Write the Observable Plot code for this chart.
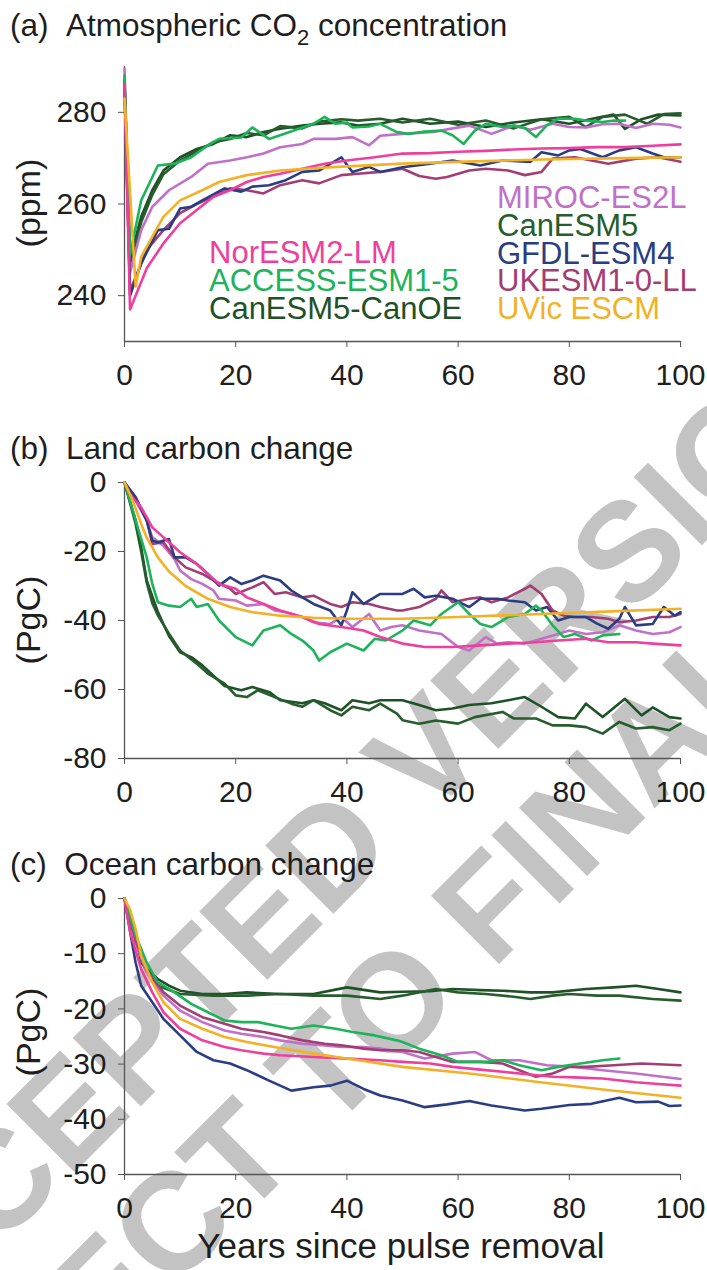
<!DOCTYPE html>
<html><head><meta charset="utf-8">
<script src="https://cdn.jsdelivr.net/npm/d3@7"></script>
<script src="https://cdn.jsdelivr.net/npm/@observablehq/plot@0.6"></script>
<style>
body{margin:0;background:#fff;}
#wrap{position:relative;width:707px;height:1270px;overflow:hidden;background:#fff;}
#wrap svg{position:absolute;left:0;}
</style></head><body><div id="wrap"></div>
<script>
// ---------- categories / styling lists ----------
const models = ["NorESM2-LM","ACCESS-ESM1-5","CanESM5-CanOE","MIROC-ES2L","CanESM5","GFDL-ESM4","UKESM1-0-LL","UVic ESCM"];
const modelColors = ["#ef3f9c","#1db35a","#1f5127","#c071c7","#275c2d","#2a3d82","#a23e73","#f2b126"];
const drawOrder = ["CanESM5-CanOE","CanESM5","MIROC-ES2L","UKESM1-0-LL","GFDL-ESM4","ACCESS-ESM1-5","NorESM2-LM","UVic ESCM"];
const xTicks = [0,20,40,60,80,100];
const co2Ticks = [240,260,280];
const landTicks = [0,-20,-40,-60,-80];
const oceanTicks = [0,-10,-20,-30,-40,-50];
const watermarkLines = ["ACCEPTED VERSION","SUBJECT TO FINAL EDITS"];

// ---------- (a) atmospheric CO2, ppm  [year, value] ----------
const co2_NorESM = [[0,286],[1,237],[2,240],[4,246],[7,251.4],[10,255.8],[13,258.7],[16,261.6],[19,263],[22,264.8],[25,265.9],[28,266.6],[32,267.7],[36,268.8],[40,269.5],[45,270.2],[50,271],[55,271.1],[60,271.4],[65,271.6],[70,271.9],[75,272.1],[80,272.2],[85,272.4],[90,272.4],[95,272.7],[100,273]];
const co2_ACCESS = [[0,288],[1,249],[3,260.8],[6,268.4],[9,268.8],[12,270.2],[15,272.8],[17,274.2],[21,274.5],[23,276.7],[26,274.2],[28,275],[32,276.7],[34,277.5],[36,279],[38,277.5],[40,277.8],[41,276.7],[44,276.9],[46,277.5],[49,275.7],[51,275.3],[54,275.8],[57,276],[59,275],[61,273.1],[63,276],[65,277.5],[68,276.8],[70,277.1],[72,276.6],[74,274.6],[76,277.2],[78,278.6],[81,278.6],[83,278.2],[86,277.9],[88,278.2],[90,278.2]];
const co2_CanOE = [[0,287],[1,248],[3,257.2],[5,263],[7,267.3],[10,270.2],[13,272],[16,273.1],[19,275],[22,274.6],[25,275.7],[28,276.4],[32,277.1],[35,277.5],[39,277.8],[42,277.1],[46,277.5],[50,278.6],[55,277.5],[60,278],[65,276.8],[70,277.8],[75,278.5],[80,277.5],[85,278.8],[88,279.5],[90,276.4],[93,278.5],[96,279.5],[100,279.3]];
const co2_MIROC = [[0,289.5],[1,245],[3,254.3],[5,259.4],[8,263],[12,265.9],[15,268.8],[19,269.5],[22,270.2],[25,271],[28,272.4],[32,273.1],[34,274.2],[38,274.2],[41,274.6],[44,272.8],[46,274.9],[50,275.3],[53,275.5],[56,275.8],[59,276.5],[62,277.1],[66,275.3],[70,277.1],[73,276.2],[77,277.5],[80,276.8],[83,276.7],[86,277.4],[89,277.5],[92,276.6],[95,277.5],[98,277.3],[100,276.7]];
const co2_CanESM5 = [[0,287],[1,247],[3,256],[5,262],[7,266.5],[10,269.5],[13,271.5],[16,273.5],[19,274.2],[22,275.5],[25,275],[28,277],[32,276.5],[35,278],[39,278.5],[42,278.2],[46,278.6],[50,277.8],[55,278.6],[60,277.3],[65,278.2],[70,276.5],[75,278.5],[80,279],[83,276.8],[86,279],[90,279.5],[94,277.5],[97,279.6],[100,279.8]];
const co2_GFDL = [[0,286],[1,240],[3,247],[6,254.3],[8,254.6],[10,259],[12,259.4],[14,260.8],[18,263.4],[21,262.7],[23,263.8],[26,264.1],[29,265.2],[32,267],[35,267.3],[39,270.2],[41,267],[44,268.1],[46,267],[50,268],[55,268.8],[59,269.5],[64,268.4],[68,269.5],[73,269.2],[75,271.3],[78,270.6],[80,271.7],[82,272],[86,270.2],[89,271.7],[92,272.4],[95,271],[97,270.2],[100,270.2]];
const co2_UKESM = [[0,286],[1,241],[4,250],[7,254.3],[10,258],[13,260],[16,261.6],[19,263.4],[22,263],[25,262.3],[28,264.1],[32,265.2],[35,264.5],[39,266.3],[42,266.6],[46,267],[50,267.7],[53,266.1],[56,265.5],[58,265.9],[62,267.3],[65,267.7],[69,267.3],[72,266.3],[75,267],[77,269.9],[81,270.2],[84,269.5],[87,268.8],[92,269.9],[96,270.2],[100,269.2]];
const co2_UVic = [[0,283],[2,242],[3,248.5],[5,252.9],[7,257.2],[10,260.8],[14,263],[17,264.8],[22,266.3],[28,267.3],[34,267.8],[40,268.2],[50,268.8],[60,269.2],[75,269.7],[90,270],[100,270.2]];

// ---------- (b) land carbon change, PgC ----------
const land_NorESM = [[0,0],[1,-3.4],[3,-7.2],[5,-13],[8,-17.3],[10,-20.2],[13,-23.6],[15,-26.5],[17,-29.4],[20,-30.8],[22,-33.3],[25,-35.2],[28,-37.1],[32,-39],[35,-41],[39,-41.9],[43,-42.9],[46,-44.8],[50,-46.7],[54,-47.7],[59,-47.7],[64,-47.2],[69,-46.7],[74,-46.3],[78,-45.8],[83,-45.3],[87,-46.3],[92,-46.3],[95,-46.7],[100,-47.2]];
const land_ACCESS = [[0,0],[2,-11],[4,-21.7],[5,-29.4],[6,-34.7],[8,-35.7],[10,-36.1],[12,-33.7],[13,-36.1],[15,-35.2],[17,-40],[20,-44.8],[23,-47.2],[25,-42.9],[28,-41.4],[30,-43.9],[32,-45.8],[34,-48.7],[35,-51.6],[37,-49.2],[40,-46.7],[43,-48.7],[45,-45.3],[47,-45.8],[50,-42.9],[52,-40],[55,-41.4],[57,-38.1],[60,-34.7],[62,-38.1],[64,-41],[66,-41.9],[69,-39],[72,-38.1],[74,-35.7],[75,-37.1],[77,-41.4],[79,-44.8],[81,-43.9],[84,-45.8],[86,-44.3],[89,-43.9]];
const land_CanOE = [[0,0],[2,-11],[3,-18.8],[4,-28.4],[5,-33],[6,-37.5],[7,-41],[8,-44.5],[10,-49.2],[12,-50.6],[14,-53],[16,-56],[18,-59],[21,-60.2],[23,-59.3],[26,-60.7],[28,-63.1],[32,-64],[34,-63.1],[36,-64],[39,-66],[41,-63.1],[44,-64],[46,-63.1],[50,-63.1],[53,-64.5],[56,-66],[59,-65.5],[62,-64.5],[66,-64],[69,-63.1],[72,-62.2],[75,-65],[78,-68],[81,-68.4],[83,-64.1],[86,-68],[90,-62.7],[93,-67.5],[95,-65.2],[98,-68],[100,-68.4]];
const land_MIROC = [[0,0],[2,-5.3],[4,-11],[5,-15.9],[7,-18.3],[9,-22.2],[10,-25.5],[12,-28],[14,-29.4],[16,-31.3],[17,-33.7],[20,-34.2],[22,-35.7],[25,-35.2],[27,-37.1],[29,-37.6],[32,-39],[34,-40.5],[37,-41],[39,-39],[41,-41.9],[44,-38.1],[46,-42.9],[48,-41.9],[50,-41.4],[53,-42.9],[57,-43.9],[60,-47.7],[62,-48.7],[65,-44.8],[67,-46.7],[69,-46.3],[72,-46.7],[75,-45.3],[78,-43.9],[80,-42.9],[83,-43.9],[86,-43.4],[89,-41.4],[92,-42.9],[95,-43.9],[98,-43.4],[100,-41.9]];
const land_CanESM5 = [[0,0],[2,-12],[3,-20],[4,-29],[5,-35],[6,-38.5],[8,-43.8],[10,-48.7],[13,-52.5],[15,-55.4],[18,-58.3],[20,-61.7],[22,-62.2],[24,-60.2],[27,-62.2],[30,-64.1],[32,-65],[34,-63.1],[37,-66],[39,-67.5],[41,-65],[44,-66],[46,-64.1],[49,-67],[50,-68.9],[53,-69.9],[56,-69],[60,-69.9],[63,-68],[68,-66.5],[70,-68.4],[74,-68.4],[77,-70.4],[80,-70.4],[83,-70.9],[86,-72.8],[89,-69.4],[92,-71.3],[95,-70.9],[98,-71.8],[100,-69.9]];
const land_GFDL = [[0,0],[2,-4.3],[4,-11],[5,-16.9],[6,-17.3],[8,-16.4],[9,-21.7],[11,-21.7],[13,-23.6],[15,-26.5],[17,-29.9],[19,-27.5],[21,-29.4],[23,-28.4],[25,-27],[28,-28.4],[30,-31.3],[32,-33.3],[34,-35.2],[37,-37.1],[39,-41.4],[40,-37.1],[41,-31.8],[43,-35.2],[46,-32.3],[48,-32.3],[50,-32.3],[52,-30.8],[54,-33.3],[56,-32.8],[59,-33.7],[62,-36.1],[64,-33.7],[67,-33.7],[69,-34.2],[72,-34.7],[74,-37.1],[76,-36.1],[78,-40],[80,-39],[83,-39],[85,-40.9],[87,-42.4],[89,-39.5],[90,-36.1],[92,-41.4],[95,-41],[97,-36.1],[99,-38.6],[100,-37.6]];
const land_UKESM = [[0,0],[2,-4.3],[4,-11],[5,-17.8],[7,-17.3],[9,-21.7],[11,-24.6],[14,-26.5],[16,-28.4],[19,-30.8],[20,-32.3],[23,-30.4],[25,-28.9],[27,-32.3],[29,-31.8],[32,-33.3],[34,-32.8],[37,-35.2],[39,-36.1],[41,-34.7],[44,-35.2],[46,-36.1],[49,-37.1],[50,-37.1],[53,-36.1],[56,-33.7],[57,-31.3],[59,-34.7],[62,-33.7],[64,-33.3],[66,-34.7],[69,-33.3],[72,-30.8],[73,-29.9],[75,-32.3],[77,-37.1],[79,-38.6],[81,-39],[84,-39],[87,-39.5],[89,-40.5],[92,-40],[95,-39],[98,-39],[100,-38.1]];
const land_UVic = [[0,0],[1,-3.5],[2,-7.5],[3,-12],[4,-16],[6,-21.7],[8,-25.8],[11,-30],[15,-33.7],[19,-36.1],[23,-37.6],[28,-38.6],[34,-39.2],[40,-39.5],[50,-39.5],[60,-39],[75,-38.1],[90,-37.2],[100,-36.6]];

// ---------- (c) ocean carbon change, PgC ----------
const ocean_NorESM = [[0,0],[1,-6],[3,-12.8],[5,-17],[7,-20.6],[10,-23.6],[14,-25.7],[18,-26.9],[21,-27.5],[25,-28.1],[28,-28.4],[34,-28.7],[40,-29],[46,-29.3],[50,-29.6],[55,-29.9],[59,-30.5],[64,-31],[68,-31.4],[72,-31.8],[77,-32.3],[81,-32.4],[86,-32.6],[92,-33.3],[96,-33.6],[100,-33.9]];
const ocean_ACCESS = [[0,0],[2,-6.7],[4,-11.6],[6,-15.2],[9,-17],[12,-19.1],[15,-20.6],[18,-22.1],[21,-22.4],[24,-22.4],[27,-23],[30,-23.6],[34,-23],[38,-23.6],[41,-24.2],[45,-24.8],[49,-25.7],[50,-26],[53,-27.2],[57,-28.4],[60,-29.6],[65,-29.6],[68,-29.3],[71,-30.2],[75,-31.1],[78,-30.5],[82,-29.9],[86,-29.3],[89,-29]];
const ocean_CanOE = [[0,0],[2,-7.3],[3,-11],[4,-12.8],[6,-14.6],[8,-15.8],[10,-16.7],[14,-17.3],[18,-17.3],[22,-17],[28,-17.3],[34,-17.3],[40,-16.1],[46,-17],[50,-16.9],[55,-16.8],[59,-16.4],[64,-16.6],[68,-16.7],[73,-17],[77,-17],[83,-16.4],[88,-16.1],[92,-15.8],[96,-16.4],[100,-17]];
const ocean_MIROC = [[0,0],[2,-8],[4,-13.4],[7,-17.6],[10,-20.3],[14,-22.4],[18,-23.9],[21,-24.5],[25,-25.1],[28,-25.7],[32,-26.3],[36,-26.6],[39,-26.9],[43,-26.9],[46,-27.2],[50,-27.8],[54,-29],[59,-28.1],[63,-27.8],[66,-29.3],[71,-29.3],[76,-30.2],[81,-30.5],[86,-31.1],[92,-31.7],[96,-32.2],[100,-32.7]];
const ocean_CanESM5 = [[0,0],[2,-6.5],[3,-11.6],[6,-15.8],[10,-17.3],[16,-17.6],[22,-17.6],[28,-17.3],[34,-17.6],[40,-17.6],[46,-18.2],[50,-17.6],[56,-16.4],[60,-17],[65,-17.3],[70,-17.8],[73,-18.2],[77,-17.6],[80,-17.3],[85,-17.6],[89,-17.6],[95,-18.2],[100,-18.5]];
const ocean_GFDL = [[0,0],[1,-6],[2,-11.6],[3,-15.8],[5,-18.8],[7,-21.8],[10,-24.8],[13,-27.8],[16,-29.3],[19,-29.9],[22,-31.1],[26,-33],[30,-34.8],[34,-34.2],[37,-33.9],[40,-33],[43,-34.5],[46,-35.7],[50,-36.6],[54,-37.8],[58,-37.3],[62,-36.7],[66,-37.5],[72,-38.4],[75,-38.1],[80,-37.4],[84,-37.2],[89,-36.1],[92,-36.9],[96,-36.8],[98,-37.6],[100,-37.5]];
const ocean_UKESM = [[0,0],[2,-7.6],[4,-13],[7,-17],[10,-19.4],[14,-21.5],[18,-22.7],[21,-23.6],[25,-24.2],[28,-24.8],[32,-25.7],[36,-26.3],[39,-26.6],[43,-27.2],[46,-27.5],[50,-27.5],[53,-27.8],[59,-29.6],[64,-29.6],[68,-29.9],[71,-31.1],[74,-32.3],[77,-31.7],[80,-30.5],[83,-30.5],[88,-30.2],[93,-29.9],[100,-30.2]];
const ocean_UVic = [[0,0],[1,-2],[2,-5.5],[3,-10.4],[5,-15.2],[7,-18.8],[10,-21.8],[14,-23.6],[18,-25.1],[22,-26],[28,-27.1],[34,-28.1],[40,-29],[50,-30.5],[62,-31.7],[74,-33.2],[86,-34.6],[100,-36.1]];

// ---------- build tables ----------
function table(seriesByModel){
  const rows = [];
  for (const m of drawOrder) for (const [year,value] of seriesByModel[m]) rows.push({model:m, year, value});
  return rows;
}
const co2Rows = table({"NorESM2-LM":co2_NorESM,"ACCESS-ESM1-5":co2_ACCESS,"CanESM5-CanOE":co2_CanOE,"MIROC-ES2L":co2_MIROC,"CanESM5":co2_CanESM5,"GFDL-ESM4":co2_GFDL,"UKESM1-0-LL":co2_UKESM,"UVic ESCM":co2_UVic});
const landRows = table({"NorESM2-LM":land_NorESM,"ACCESS-ESM1-5":land_ACCESS,"CanESM5-CanOE":land_CanOE,"MIROC-ES2L":land_MIROC,"CanESM5":land_CanESM5,"GFDL-ESM4":land_GFDL,"UKESM1-0-LL":land_UKESM,"UVic ESCM":land_UVic});
const oceanRows = table({"NorESM2-LM":ocean_NorESM,"ACCESS-ESM1-5":ocean_ACCESS,"CanESM5-CanOE":ocean_CanOE,"MIROC-ES2L":ocean_MIROC,"CanESM5":ocean_CanESM5,"GFDL-ESM4":ocean_GFDL,"UKESM1-0-LL":ocean_UKESM,"UVic ESCM":ocean_UVic});

const FONT = "'Liberation Sans', Arial, Helvetica, sans-serif";
const AX = "#555";
const TXT = "#1e1e1e";
const fmt = d => (d < 0 ? "-" + Math.abs(d) : String(d));
const wrap = d3.select("#wrap");

// ---------- watermark (light grey, behind the charts) ----------
const WM = 140, ANG = -45;
const wm = wrap.append("svg").attr("width",707).attr("height",1270)
  .style("top","0px").style("font-family",FONT).style("pointer-events","none");
[[327,849],[435,957]].forEach(([cx,cy],i)=>{
  wm.append("g").attr("transform",`translate(${cx},${cy}) rotate(${ANG})`)
    .append("text").attr("text-anchor","middle").attr("y",0.358*WM).attr("font-size",WM)
    .attr("font-weight","bold").attr("fill","#c3c3c3").text(watermarkLines[i]);
});

function panel(rows, yDomain, yTicks, top, mTop, plotH){
  const mBottom = 50;
  const p = Plot.plot({
    width: 707, height: mTop + plotH + mBottom,
    marginLeft: 124, marginRight: 27, marginTop: mTop, marginBottom: mBottom,
    style: {fontFamily: FONT, fontSize: "30px", color: TXT, background: "transparent", overflow: "visible"},
    x: {domain: [0,100]},
    y: {domain: yDomain},
    color: {domain: models, range: modelColors},
    marks: [
      Plot.ruleY([yDomain[0]], {stroke: AX, strokeWidth: 1.3}),
      Plot.ruleX([0], {stroke: AX, strokeWidth: 1.3}),
      Plot.axisX({ticks: xTicks, tickFormat: fmt, tickSize: 6, tickPadding: 16, stroke: AX, fill: TXT, label: null, fontSize: 30}),
      Plot.axisY({ticks: yTicks, tickFormat: fmt, tickSize: 6, tickPadding: 12, stroke: AX, fill: TXT, label: null, fontSize: 30}),
      Plot.line(rows, {x: "year", y: "value", z: "model", stroke: "model", strokeWidth: 2.6, strokeLinejoin: "round"})
    ]
  });
  p.style.top = top + "px";
  wrap.node().appendChild(p);
}
panel(co2Rows, [230,290], co2Ticks, 50, 16, 275);
panel(landRows, [-80,0], landTicks, 465, 17, 276);
panel(oceanRows, [-50,0], oceanTicks, 880, 18, 276);

// ---------- text overlay: titles, axis labels, legend ----------
const svg = wrap.append("svg").attr("width",707).attr("height",1270)
  .style("top","0px").style("font-family",FONT).style("pointer-events","none");
const titleA = svg.append("text").attr("x",10).attr("y",36).attr("font-size",31.5).attr("fill",TXT);
titleA.append("tspan").text("(a)\u00A0\u00A0Atmospheric CO");
titleA.append("tspan").attr("font-size",22).attr("dy",9).text("2");
titleA.append("tspan").attr("dy",-9).text(" concentration");
svg.append("text").attr("x",10).attr("y",459).attr("font-size",31.5).attr("fill",TXT).text("(b)\u00A0\u00A0Land carbon change");
svg.append("text").attr("x",10).attr("y",875).attr("font-size",31.5).attr("fill",TXT).text("(c)\u00A0\u00A0Ocean carbon change");
const yLabels = [["(ppm)",203],["(PgC)",620],["(PgC)",1032]];
for (const [t,cy] of yLabels) svg.append("text").attr("transform",`translate(40,${cy}) rotate(-90)`).attr("text-anchor","middle").attr("font-size",34).attr("fill",TXT).text(t);
svg.append("text").attr("x",401).attr("y",1258).attr("text-anchor","middle").attr("font-size",35).attr("fill",TXT).text("Years since pulse removal");
// legend
const legendLeft = ["NorESM2-LM","ACCESS-ESM1-5","CanESM5-CanOE"];
const legendRight = ["MIROC-ES2L","CanESM5","GFDL-ESM4","UKESM1-0-LL","UVic ESCM"];
const colorOf = m => modelColors[models.indexOf(m)];
legendLeft.forEach((m,i)=> svg.append("text").attr("x",209).attr("y",263+i*28).attr("font-size",31).attr("fill",colorOf(m)).text(m));
legendRight.forEach((m,i)=> svg.append("text").attr("x",497).attr("y",208+i*27.8).attr("font-size",31).attr("fill",colorOf(m)).text(m));
</script></body></html>
